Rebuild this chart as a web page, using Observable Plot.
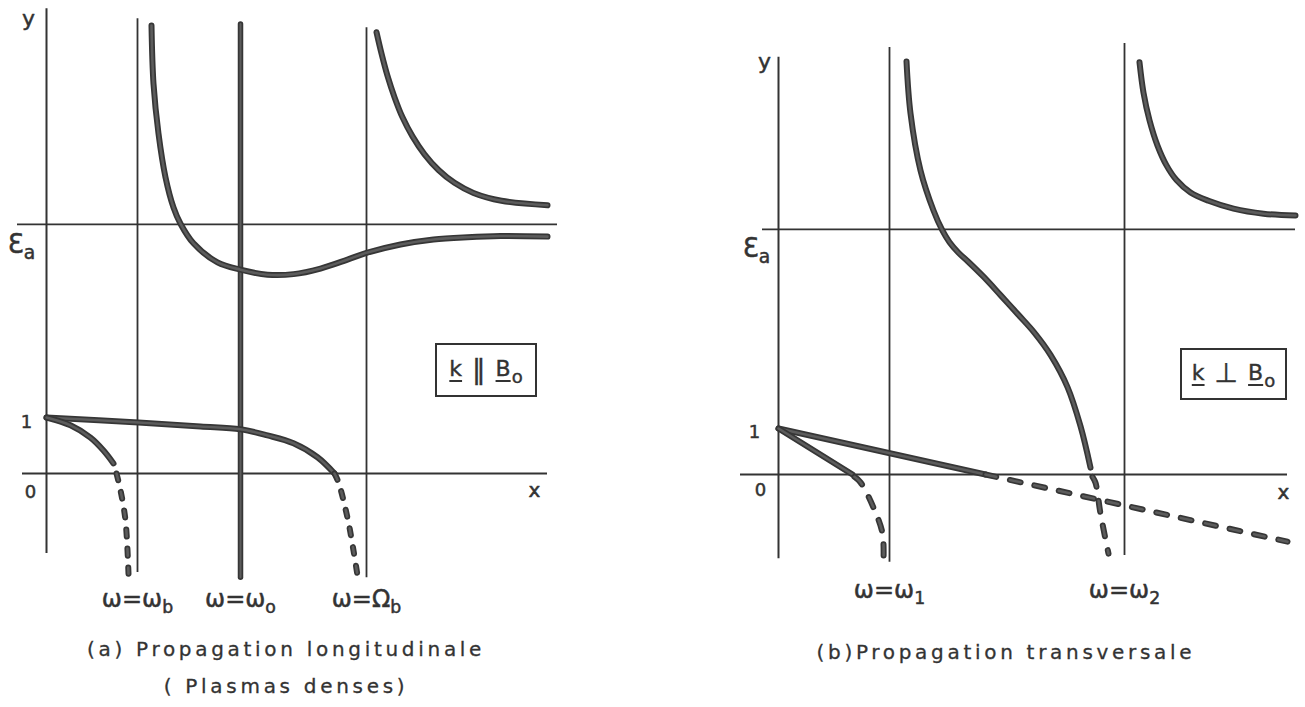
<!DOCTYPE html>
<html>
<head>
<meta charset="utf-8">
<script src="https://cdn.jsdelivr.net/npm/d3@7"></script>
<script src="https://cdn.jsdelivr.net/npm/@observablehq/plot@0.6"></script>
<style>
  body { margin: 0; background: #fff; }
  #fig { position: relative; width: 1305px; height: 707px; font-family: "DejaVu Sans", sans-serif; color: #333; overflow: hidden; }
  .panel { position: absolute; top: 0; }
  .caption { position: absolute; text-align: center; font-size: 20px; letter-spacing: 3.7px; line-height: 37px; color: #333; white-space: nowrap; -webkit-text-stroke: 0.3px #333; }
  .box { position: absolute; box-sizing: border-box; border: 2px solid #333; display: flex; align-items: center; justify-content: center; font-size: 22px; color: #333; -webkit-text-stroke: 0.4px #333; }
  .box .inner { white-space: nowrap; line-height: 1; }
  .box u { text-decoration-thickness: 2px; text-underline-offset: 4px; }
  .box .rel { margin: 0 10px; font-size: 27px; vertical-align: -2px; }
  .box sub { font-size: 18px; vertical-align: -7px; margin-left: 1px; }
</style>
</head>
<body>
<div id="fig"></div>
<script>
// ---------- Panel (a): longitudinal propagation, dense plasma ----------
// x: frequency (arbitrary units), y: permittivity (arbitrary units, 1 marked on the axis)
const aGuides = [
  { label: "ω=ω_b", x: 0.91, top: 8.12, bottom: -1.77, thick: false },
  { label: "ω=ω_o", x: 1.94, top: 8.02, bottom: -1.86, thick: true },
  { label: "ω=Ω_b", x: 3.20, top: 7.96, bottom: -1.86, thick: false }
];
const aYAxis = [-1.43, 8.30];
const aXAxis = [-0.24, 5.01];
const aEps = 4.45;
const aEpsSpan = [-0.29, 5.11];

const aUpperLeft = [
  [1.05, 8.0], [1.07, 6.96], [1.12, 6.07], [1.19, 5.29], [1.27, 4.75], [1.34, 4.46],
  [1.47, 4.11], [1.71, 3.77], [1.94, 3.64], [2.21, 3.55], [2.47, 3.56], [2.74, 3.66],
  [3.01, 3.82], [3.20, 3.94], [3.54, 4.09], [3.87, 4.18], [4.21, 4.22], [4.54, 4.24], [5.01, 4.23]
];
const aUpperRight = [
  [3.30, 7.88], [3.35, 7.50], [3.41, 7.10], [3.48, 6.72], [3.56, 6.36], [3.66, 6.02],
  [3.78, 5.70], [3.92, 5.42], [4.08, 5.19], [4.27, 5.01], [4.55, 4.87], [5.01, 4.79]
];
const aLowerLong = [
  [0.0, 1.0], [0.92, 0.91], [1.54, 0.84], [1.94, 0.79], [2.21, 0.68], [2.47, 0.54], [2.71, 0.29], [2.88, 0.0]
];
const aLowerLongNeg = [
  [2.88, 0.0], [2.92, -0.16], [3.01, -0.79], [3.07, -1.375], [3.11, -1.82]
];
const aLowerShort = [
  [0.0, 1.0], [0.24, 0.86], [0.44, 0.64], [0.57, 0.41], [0.67, 0.18]
];
const aLowerShortNeg = [
  [0.70, 0.0], [0.74, -0.30], [0.79, -0.84], [0.82, -1.79]
];

// ---------- Panel (b): transverse propagation ----------
const bGuides = [
  { label: "ω=ω_1", x: 1.11, top: 9.28, bottom: -1.91, thick: false },
  { label: "ω=ω_2", x: 3.46, top: 9.37, bottom: -1.76, thick: false }
];
const bYAxis = [-1.83, 9.07];
const bXAxis = [-0.38, 5.09];
const bEps = 5.33;
const bEpsSpan = [-0.16, 5.17];

const bMiddle = [
  [1.28, 8.98], [1.32, 7.85], [1.42, 6.61], [1.55, 5.74], [1.64, 5.30], [1.71, 5.05],
  [1.80, 4.82], [1.90, 4.62], [2.05, 4.30], [2.22, 3.90], [2.40, 3.47], [2.56, 3.08],
  [2.72, 2.60], [2.89, 1.90], [3.02, 1.05], [3.12, 0.15]
];
const bMiddleNeg = [
  [3.14, -0.05], [3.17, -0.18], [3.22, -0.85], [3.30, -1.72]
];
const bUpperRight = [
  [3.61, 8.96], [3.65, 8.30], [3.71, 7.70], [3.79, 7.15], [3.88, 6.72], [3.98, 6.40],
  [4.12, 6.13], [4.30, 5.95], [4.55, 5.78], [4.85, 5.67], [5.17, 5.63]
];
const bLineLong = [[0.0, 1.0], [2.07, 0.0]];
const bLineLongNeg = [[2.07, 0.0], [5.09, -1.46]];
const bLineShort = [[0.0, 1.0], [0.74, 0.0]];
const bLineShortNeg = [
  [0.76, -0.05], [0.82, -0.17], [0.95, -0.72], [1.04, -1.28], [1.05, -1.87]
];

const INK = "#333";
const CURVE_EDGE = "#363636";
const CURVE_CORE = "#5c5c5c";

// A thick drafted curve: dark outer stroke with a lighter core
function drafted(data, dash) {
  const base = {
    x: d => d[0], y: d => d[1], curve: "catmull-rom",
    strokeLinecap: "round", strokeLinejoin: "round",
    strokeDasharray: dash || null
  };
  return [
    Plot.line(data, { ...base, stroke: CURVE_EDGE, strokeWidth: 6 }),
    Plot.line(data, { ...base, stroke: CURVE_CORE, strokeWidth: 2.6 })
  ];
}

// Turn "main_sub" labels into text with a subscript
function subscripts(svg) {
  d3.select(svg).selectAll("text").each(function () {
    const s = this.textContent;
    const i = s.indexOf("_");
    if (i < 0) return;
    const el = d3.select(this);
    el.text(null);
    el.append("tspan").text(s.slice(0, i));
    el.append("tspan").attr("dy", "0.32em").attr("font-size", "72%").text(s.slice(i + 1));
  });
}

function panel(cfg) {
  const labelY = d3.min(cfg.guides, d => d.bottom);
  const ink = { fill: INK, stroke: INK, strokeWidth: 0.5 };
  const marks = [
    // axes and the ε_a level
    Plot.ruleX([{ x: 0, y1: cfg.yAxis[0], y2: cfg.yAxis[1] }], { x: "x", y1: "y1", y2: "y2", stroke: INK, strokeWidth: 2 }),
    Plot.ruleY([{ y: 0, x1: cfg.xAxis[0], x2: cfg.xAxis[1] }], { y: "y", x1: "x1", x2: "x2", stroke: INK, strokeWidth: 2 }),
    Plot.ruleY([{ y: cfg.eps, x1: cfg.epsSpan[0], x2: cfg.epsSpan[1] }], { y: "y", x1: "x1", x2: "x2", stroke: INK, strokeWidth: 1.8 }),
    // characteristic frequencies
    Plot.ruleX(cfg.guides.filter(d => !d.thick), { x: "x", y1: "bottom", y2: "top", stroke: INK, strokeWidth: 1.8 }),
    Plot.ruleX(cfg.guides.filter(d => d.thick), { x: "x", y1: "bottom", y2: "top", stroke: CURVE_EDGE, strokeWidth: 5.5, strokeLinecap: "round" }),
    Plot.ruleX(cfg.guides.filter(d => d.thick), { x: "x", y1: "bottom", y2: "top", stroke: CURVE_CORE, strokeWidth: 2, strokeLinecap: "round" }),
    // branches
    ...cfg.solid.flatMap(d => drafted(d)),
    ...cfg.dashed.flatMap(d => drafted(d, cfg.dash)),
    // labels
    Plot.text(cfg.guides, { x: "x", y: () => labelY, text: "label", dy: cfg.labelDy, fontSize: 24, letterSpacing: 1.5, ...ink }),
    Plot.text([{ x: 0, y: cfg.yAxis[1] }], { x: "x", y: "y", text: () => "y", dx: cfg.yLab[0], dy: cfg.yLab[1], fontSize: 22, ...ink }),
    Plot.text([{ x: 0, y: cfg.eps }], { x: "x", y: "y", text: () => "Ɛ_a", dx: cfg.epsLab[0], dy: cfg.epsLab[1], fontSize: 26, ...ink }),
    Plot.text([{ x: 0, y: 1 }], { x: "x", y: "y", text: () => "1", dx: cfg.oneLab[0], dy: cfg.oneLab[1], fontSize: 18, ...ink }),
    Plot.text([{ x: 0, y: 0 }], { x: "x", y: "y", text: () => "0", dx: cfg.zeroLab[0], dy: cfg.zeroLab[1], fontSize: 18, ...ink }),
    Plot.text([{ x: cfg.xAxis[1], y: 0 }], { x: "x", y: "y", text: () => "x", dx: cfg.xLab[0], dy: cfg.xLab[1], fontSize: 20, ...ink })
  ];
  const svg = Plot.plot({
    width: cfg.width,
    height: 620,
    margin: 0,
    x: { type: "linear", domain: [0, 1], range: cfg.xRange, axis: null },
    y: { type: "linear", domain: [0, 1], range: cfg.yRange, axis: null },
    style: { background: "transparent", overflow: "visible", fontFamily: "DejaVu Sans, sans-serif", color: INK },
    marks
  });
  subscripts(svg);
  svg.classList.add("panel");
  svg.style.left = cfg.left + "px";
  return svg;
}

const fig = document.getElementById("fig");

fig.appendChild(panel({
  left: 0, width: 650,
  xRange: [46, 146], yRange: [473, 417],
  guides: aGuides, yAxis: aYAxis, xAxis: aXAxis, eps: aEps, epsSpan: aEpsSpan,
  solid: [aUpperLeft, aUpperRight, aLowerLong, aLowerShort],
  dashed: [aLowerLongNeg, aLowerShortNeg],
  dash: "7,12",
  labelDy: 22,
  yLab: [-18, 10], epsLab: [-25, 20], oneLab: [-20, 5], zeroLab: [-16, 19], xLab: [-13, 17]
}));

fig.appendChild(panel({
  left: 650, width: 655,
  xRange: [128, 228], yRange: [474, 428],
  guides: bGuides, yAxis: bYAxis, xAxis: bXAxis, eps: bEps, epsSpan: bEpsSpan,
  solid: [bMiddle, bUpperRight, bLineLong, bLineShort],
  dashed: [bMiddleNeg, bLineLongNeg, bLineShortNeg],
  dash: "11,14",
  labelDy: 28,
  yLab: [-14, 5], epsLab: [-22, 19], oneLab: [-24, 4], zeroLab: [-18, 16], xLab: [-4, 18]
}));

// Orientation boxes
function box(left, top, w, h, rel) {
  const d = document.createElement("div");
  d.className = "box";
  Object.assign(d.style, { left: left + "px", top: top + "px", width: w + "px", height: h + "px" });
  d.innerHTML = `<span class="inner"><u>k</u><span class="rel">${rel}</span><u>B</u><sub>o</sub></span>`;
  fig.appendChild(d);
}
box(435, 343, 102, 54, "‖");
box(1180, 348, 107, 52, "⊥");

// Captions
function caption(centerX, top, html) {
  const d = document.createElement("div");
  d.className = "caption";
  d.innerHTML = html;
  fig.appendChild(d);
  d.style.top = top + "px";
  d.style.left = (centerX - d.offsetWidth / 2) + "px";
}
caption(286, 631, "(a) Propagation longitudinale<br>( Plasmas denses)");
caption(1006, 634, "(b)Propagation transversale");
</script>
</body>
</html>
